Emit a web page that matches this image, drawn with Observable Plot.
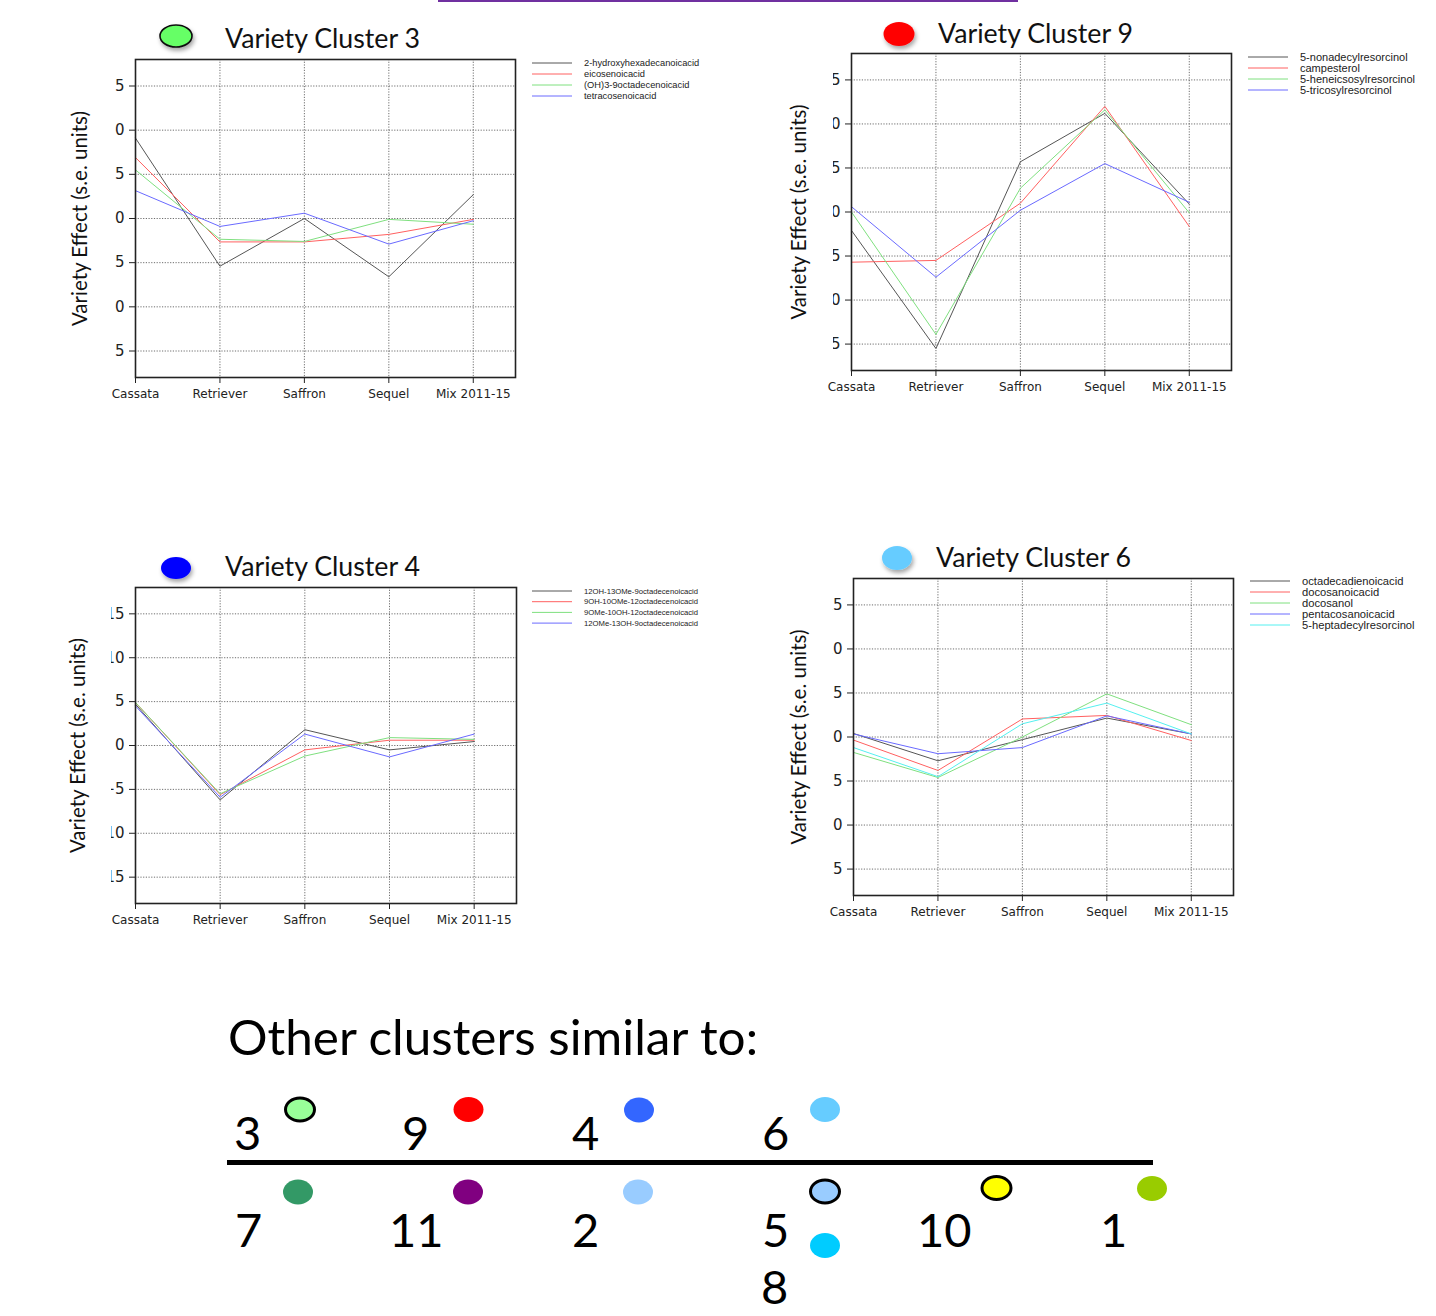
<!DOCTYPE html>
<html><head><meta charset="utf-8">
<script src="https://cdn.jsdelivr.net/npm/d3@7"></script>
<script src="https://cdn.jsdelivr.net/npm/@observablehq/plot@0.6"></script>
<style>
body{margin:0;background:#fff;}
#page{position:relative;width:1436px;height:1316px;overflow:hidden;background:#fff;}
.panel{position:absolute;}
.panel svg{background:transparent !important;overflow:visible;}
.panel g[aria-label="y-axis label"] text{font-family:Lato,"Open Sans",sans-serif;font-size:20.5px;fill:#111;}
#overlay{position:absolute;left:0;top:0;pointer-events:none;}
</style>
</head><body><div id="page"></div>
<script>
// ---------- data ----------
const categories = ["Cassata", "Retriever", "Saffron", "Sequel", "Mix 2011-15"];
const xTicks = [0, 1, 2, 3, 4];
const yTicks = [-15, -10, -5, 0, 5, 10, 15];
const yLabel = "Variety Effect (s.e. units)";

const c3Names = ["2-hydroxyhexadecanoicacid", "eicosenoicacid", "(OH)3-9octadecenoicacid", "tetracosenoicacid"];
const c3Black = [9.1, -5.4, 0.0, -6.6, 2.7];
const c3Red   = [6.9, -2.65, -2.65, -1.8, -0.1];
const c3Green = [5.5, -2.35, -2.6, -0.1, -0.65];
const c3Blue  = [3.15, -0.9, 0.6, -2.9, -0.25];

const c9Names = ["5-nonadecylresorcinol", "campesterol", "5-heneicsosylresorcinol", "5-tricosylresorcinol"];
const c9Black = [-2.1, -15.5, 5.7, 11.2, 0.9];
const c9Red   = [-5.7, -5.5, 1.0, 12.0, -1.65];
const c9Green = [0.0, -13.9, 2.7, 11.6, -0.1];
const c9Blue  = [0.6, -7.4, 0.2, 5.5, 1.1];

const c4Names = ["12OH-13OMe-9octadecenoicacid", "9OH-10OMe-12octadecenoicacid", "9OMe-10OH-12octadecenoicacid", "12OMe-13OH-9octadecenoicacid"];
const c4Black = [4.7, -6.2, 1.8, -0.5, 0.45];
const c4Red   = [4.9, -5.6, -0.5, 0.6, 0.6];
const c4Green = [4.9, -5.5, -1.2, 0.9, 0.7];
const c4Blue  = [4.5, -5.9, 1.3, -1.3, 1.3];

const c6Names = ["octadecadienoicacid", "docosanoicacid", "docosanol", "pentacosanoicacid", "5-heptadecylresorcinol"];
const c6Black = [0.4, -2.7, -0.3, 2.15, 0.35];
const c6Red   = [-0.35, -3.8, 2.05, 2.45, -0.4];
const c6Green = [-1.75, -4.6, 0.0, 4.9, 1.4];
const c6Blue  = [0.35, -1.9, -1.2, 2.4, 0.35];
const c6Cyan  = [-1.2, -4.5, 1.5, 3.85, 0.35];

const colors4 = ["#555555", "#ff6060", "#7fe07f", "#6a6aff"];
const colors5 = ["#555555", "#ff6060", "#7fe07f", "#6a6aff", "#55f0f0"];

const clusterTitles = ["Variety Cluster 3", "Variety Cluster 9", "Variety Cluster 4", "Variety Cluster 6"];

// bottom "similar clusters" table
const topRow = ["3", "9", "4", "6"];
const bottomRow = ["7", "11", "2", "5", "10", "1"];
const extraRow = ["8"];

// ---------- layout ----------
const panels = [
  {names: c3Names, values: [c3Black, c3Red, c3Green, c3Blue], colors: colors4,
   left: 60, top: 50, w: 460, h: 352, clipX: 115, labelOffset: 63,
   title: clusterTitles[0], titleX: 225, titleY: 48, mark: {cx: 176, cy: 36, rx: 16, ry: 11, fill: "#66ff66", stroke: "#111"},
   leg: {x: 532, y: 63, dy: 11, fs: 9.3}},
  {names: c9Names, values: [c9Black, c9Red, c9Green, c9Blue], colors: colors4,
   left: 776, top: 44, w: 460, h: 351, clipX: 833, labelOffset: 60,
   title: clusterTitles[1], titleX: 938, titleY: 43, mark: {cx: 899, cy: 34, rx: 15.5, ry: 12, fill: "#ff0000", stroke: "none"},
   leg: {x: 1248, y: 57, dy: 11, fs: 11}},
  {names: c4Names, values: [c4Black, c4Red, c4Green, c4Blue], colors: colors4,
   left: 60, top: 578, w: 461, h: 350, clipX: 111, labelOffset: 65,
   title: clusterTitles[2], titleX: 225, titleY: 576, mark: {cx: 176, cy: 568, rx: 15, ry: 11, fill: "#0000ff", stroke: "none"},
   leg: {x: 532, y: 591, dy: 10.7, fs: 7.7}},
  {names: c6Names, values: [c6Black, c6Red, c6Green, c6Blue, c6Cyan], colors: colors5,
   left: 778, top: 569, w: 460, h: 351, clipX: 832, labelOffset: 62,
   title: clusterTitles[3], titleX: 936, titleY: 567, mark: {cx: 897, cy: 558, rx: 15, ry: 12, fill: "#66ccff", stroke: "none"},
   leg: {x: 1250, y: 581, dy: 11, fs: 11.2}}
];

const page = document.getElementById("page");
const NS = "http://www.w3.org/2000/svg";

panels.forEach((cfg, k) => {
  const data = cfg.names.flatMap((n, s) => cfg.values[s].map((v, i) => ({series: n, i, value: v})));
  const plot = Plot.plot({
    width: cfg.w, height: cfg.h,
    marginLeft: 75, marginRight: 5, marginTop: 9, marginBottom: 25,
    style: {fontFamily: "'DejaVu Sans', Verdana, sans-serif", fontSize: "12px", background: "transparent", color: "#222"},
    x: {domain: [0, 4.5], axis: null},
    y: {domain: [-18, 18], axis: null},
    color: {domain: cfg.names, range: cfg.colors},
    marks: [
      Plot.gridY(yTicks, {stroke: "#555", strokeOpacity: 0.85, strokeDasharray: "1.2,1.5"}),
      Plot.gridX(xTicks, {stroke: "#555", strokeOpacity: 0.85, strokeDasharray: "1.2,1.5"}),
      Plot.line(data, {x: "i", y: "value", z: "series", stroke: "series", strokeWidth: 1}),
      Plot.frame({stroke: "#222", strokeWidth: 1.6}),
      Plot.axisX(xTicks, {tickFormat: i => categories[i], tickSize: 6, tickPadding: 6, label: null, fontSize: 12, stroke: "#222"}),
      Plot.axisY(yTicks, {tickSize: 6, tickPadding: 5, fontSize: 15, label: yLabel, labelAnchor: "center", labelOffset: cfg.labelOffset, labelArrow: "none"})
    ]
  });
  const div = document.createElement("div");
  div.className = "panel";
  div.style.left = cfg.left + "px";
  div.style.top = cfg.top + "px";
  div.appendChild(plot);
  page.appendChild(div);
  // the source images are cropped on the left: clip the y tick labels likewise
  const g = plot.querySelector('g[aria-label="y-axis tick label"]');
  if (g) {
    const defs = document.createElementNS(NS, "defs");
    const cp = document.createElementNS(NS, "clipPath");
    cp.setAttribute("id", "yclip" + k);
    const r = document.createElementNS(NS, "rect");
    r.setAttribute("x", cfg.clipX - cfg.left); r.setAttribute("y", -50);
    r.setAttribute("width", 2000); r.setAttribute("height", 2000);
    cp.appendChild(r); defs.appendChild(cp); plot.insertBefore(defs, plot.firstChild);
    const wrap = document.createElementNS(NS, "g");
    wrap.setAttribute("clip-path", `url(#yclip${k})`);
    g.parentNode.insertBefore(wrap, g); wrap.appendChild(g);
  }
});

// ---------- overlay: titles, legends, similar-cluster table ----------
const ov = document.createElementNS(NS, "svg");
ov.setAttribute("id", "overlay");
ov.setAttribute("width", 1436); ov.setAttribute("height", 1316);
page.appendChild(ov);
function el(tag, attrs, text) {
  const e = document.createElementNS(NS, tag);
  for (const k in attrs) e.setAttribute(k, attrs[k]);
  if (text != null) e.textContent = text;
  ov.appendChild(e); return e;
}
const defs = el("defs", {});
defs.innerHTML = '<filter id="sh" x="-50%" y="-50%" width="200%" height="200%"><feDropShadow dx="1.5" dy="3" stdDeviation="2" flood-color="#000" flood-opacity="0.35"/></filter>';

el("rect", {x: 438, y: 0, width: 580, height: 2, fill: "#7030a0"});

panels.forEach(cfg => {
  const m = cfg.mark;
  el("ellipse", {cx: m.cx, cy: m.cy, rx: m.rx, ry: m.ry, fill: m.fill, stroke: m.stroke, "stroke-width": 1.6, filter: "url(#sh)"});
  el("text", {x: cfg.titleX, y: cfg.titleY, "font-family": "Lato, sans-serif", "font-size": 27, fill: "#111", textLength: 195, lengthAdjust: "spacingAndGlyphs"}, cfg.title);
  cfg.names.forEach((n, i) => {
    const y = cfg.leg.y + i * cfg.leg.dy;
    el("line", {x1: cfg.leg.x, x2: cfg.leg.x + 40, y1: y, y2: y, stroke: cfg.colors[i], "stroke-width": 1});
    el("text", {x: cfg.leg.x + 52, y: y, "dominant-baseline": "central", "font-family": "'Liberation Sans', Arial, sans-serif", "font-size": cfg.leg.fs, fill: "#222"}, n);
  });
});

// bottom section
el("text", {x: 228, y: 1055, "font-family": "Lato, sans-serif", "font-size": 48, fill: "#000", textLength: 530, lengthAdjust: "spacingAndGlyphs"}, "Other clusters similar to:");
el("rect", {x: 227, y: 1160, width: 926, height: 5, fill: "#000"});
const numFont = {"font-family": "Lato, sans-serif", "font-size": 47, fill: "#000"};
const topX = [234, 402, 572, 762];
topRow.forEach((t, i) => el("text", {x: topX[i], y: 1150, ...numFont}, t));
const botX = [235, 389, 572, 762, 917, 1100];
bottomRow.forEach((t, i) => el("text", {x: botX[i], y: 1247, ...numFont}, t));
extraRow.forEach(t => el("text", {x: 761, y: 1304, ...numFont}, t));
const dots = [
  {cx: 300, cy: 1109.5, fill: "#99ff99", stroke: "#000"},
  {cx: 468.5, cy: 1109.5, fill: "#ff0000"},
  {cx: 639, cy: 1110, fill: "#3366ff"},
  {cx: 825, cy: 1109.5, fill: "#66ccff"},
  {cx: 298, cy: 1192, fill: "#339966"},
  {cx: 468, cy: 1192, fill: "#800080"},
  {cx: 638, cy: 1192, fill: "#99ccff"},
  {cx: 825, cy: 1191.5, fill: "#99ccff", stroke: "#000"},
  {cx: 825, cy: 1245.5, fill: "#00ccff"},
  {cx: 996.5, cy: 1188, fill: "#ffff00", stroke: "#000"},
  {cx: 1152, cy: 1188.5, fill: "#99cc00"}
];
dots.forEach(d => el("ellipse", {cx: d.cx, cy: d.cy, rx: d.stroke ? 14.5 : 15, ry: d.stroke ? 11.5 : 12.5, fill: d.fill, stroke: d.stroke || "none", "stroke-width": 3}));
</script>
</body></html>
